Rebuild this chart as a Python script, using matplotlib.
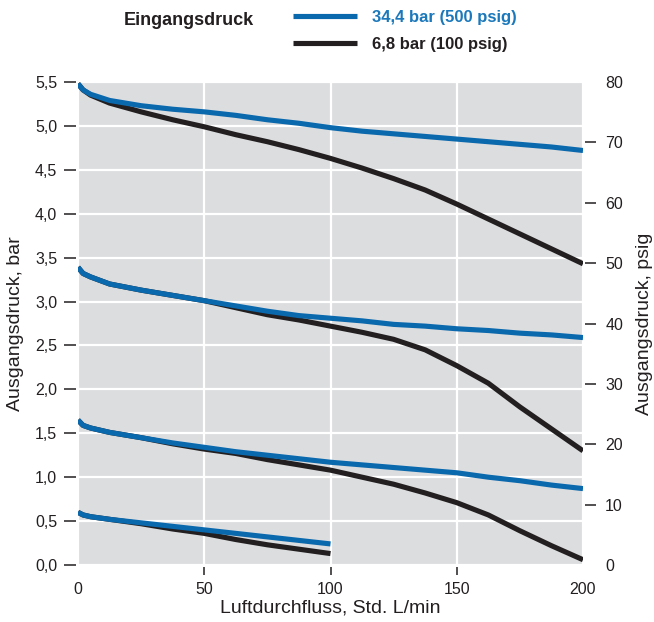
import matplotlib
matplotlib.use("Agg")
import matplotlib.pyplot as plt

plt.rcParams['font.family'] = ['Liberation Sans', 'DejaVu Sans']

# ---- data ----
flow_full = [0, 2, 5, 12.5, 25, 37.5, 50, 62.5, 75, 87.5, 100,
             112.5, 125, 137.5, 150, 162.5, 175, 187.5, 200]
flow_short = [0, 2, 5, 12.5, 25, 37.5, 50, 62.5, 75, 87.5, 100]

# 34,4 bar (500 psig) inlet
hi_set1 = [5.48, 5.41, 5.36, 5.29, 5.23, 5.19, 5.16, 5.12, 5.07, 5.03, 4.98,
           4.94, 4.91, 4.88, 4.85, 4.82, 4.79, 4.76, 4.72]
hi_set2 = [3.39, 3.32, 3.28, 3.20, 3.13, 3.07, 3.01, 2.95, 2.89, 2.84, 2.81,
           2.78, 2.74, 2.72, 2.69, 2.67, 2.64, 2.62, 2.59]
hi_set3 = [1.65, 1.59, 1.56, 1.51, 1.45, 1.39, 1.34, 1.29, 1.25, 1.21, 1.17,
           1.14, 1.11, 1.08, 1.05, 1.00, 0.96, 0.91, 0.87]
hi_set4 = [0.60, 0.57, 0.55, 0.52, 0.48, 0.44, 0.40, 0.36, 0.32, 0.28, 0.24]

# 6,8 bar (100 psig) inlet
lo_set1 = [5.48, 5.41, 5.35, 5.26, 5.16, 5.07, 4.99, 4.90, 4.82, 4.73, 4.63,
           4.52, 4.40, 4.27, 4.11, 3.94, 3.77, 3.60, 3.43]
lo_set2 = [3.39, 3.32, 3.28, 3.20, 3.13, 3.07, 3.01, 2.93, 2.85, 2.79, 2.72,
           2.65, 2.57, 2.45, 2.27, 2.07, 1.80, 1.55, 1.30]
lo_set3 = [1.65, 1.59, 1.56, 1.51, 1.45, 1.38, 1.32, 1.27, 1.20, 1.14, 1.08,
           1.00, 0.92, 0.82, 0.71, 0.57, 0.39, 0.22, 0.06]
lo_set4 = [0.60, 0.57, 0.55, 0.52, 0.47, 0.41, 0.36, 0.29, 0.23, 0.18, 0.13]

x_ticks = [0, 50, 100, 150, 200]
bar_ticks = [0, 0.5, 1.0, 1.5, 2.0, 2.5, 3.0, 3.5, 4.0, 4.5, 5.0, 5.5]
psig_ticks = [0, 10, 20, 30, 40, 50, 60, 70, 80]

legend_title = "Eingangsdruck"
label_hi = "34,4 bar (500 psig)"
label_lo = "6,8 bar (100 psig)"

# ---- style ----
BLUE = '#0a68ad'
BLUE_TXT = '#1a78bb'
BLACK = '#231f20'
BG = '#dcdddf'
TXT = '#231f20'
LW = 3.7

W, H = 654, 622
fig = plt.figure(figsize=(W / 100, H / 100), dpi=100)
ax = fig.add_axes([78 / W, 1 - 565 / H, 505 / W, 483 / H])
ax.set_facecolor(BG)

lo_lines = []
for xs, ys in [(flow_full, lo_set1), (flow_full, lo_set2), (flow_full, lo_set3), (flow_short, lo_set4)]:
    l, = ax.plot(xs, ys, color=BLACK, lw=LW, solid_capstyle='butt', solid_joinstyle='round', zorder=3)
    lo_lines.append(l)
hi_lines = []
for xs, ys in [(flow_full, hi_set1), (flow_full, hi_set2), (flow_full, hi_set3), (flow_short, hi_set4)]:
    l, = ax.plot(xs, ys, color=BLUE, lw=LW, solid_capstyle='butt', solid_joinstyle='round', zorder=4)
    hi_lines.append(l)

ax.set_xlim(0, 200)
ax.set_ylim(0, 5.5)
ax.set_xticks(x_ticks)
ax.set_yticks(bar_ticks)
ax.set_xticklabels([str(v) for v in x_ticks])
ax.set_yticklabels([f"{v:.1f}".replace('.', ',') for v in bar_ticks])
ax.grid(True, color='white', lw=1.6, zorder=1)
ax.set_axisbelow(True)
for s in ax.spines.values():
    s.set_visible(False)
ax.spines['left'].set_position(('outward', 1.5))
ax.spines['bottom'].set_position(('outward', 1.5))

ax.tick_params(axis='y', direction='out', length=8.5, width=1.1, color=TXT,
               pad=5, labelsize=11.5, labelcolor=TXT)
ax.tick_params(axis='x', direction='out', length=5.5, width=1.1, color=TXT,
               pad=5, labelsize=11.5, labelcolor=TXT)
for ticks in (ax.xaxis.get_major_ticks(), ax.yaxis.get_major_ticks()):
    ticks[0].tick1line.set_visible(False)
    ticks[-1].tick1line.set_visible(False)

ax.set_xlabel("Luftdurchfluss, Std. L/min", fontsize=14, color=TXT, labelpad=2)
ax.set_ylabel("Ausgangsdruck, bar", fontsize=14, color=TXT, labelpad=8)

ax2 = ax.twinx()
ax2.set_ylim(0, 80)
ax2.set_yticks(psig_ticks)
ax2.set_yticklabels([str(v) for v in psig_ticks])
for s in ax2.spines.values():
    s.set_visible(False)
ax2.spines['right'].set_position(('outward', 1.5))
ax2.tick_params(axis='y', direction='out', length=8, width=1.1, color=TXT,
                pad=6.5, labelsize=11.5, labelcolor=TXT)
t2 = ax2.yaxis.get_major_ticks()
t2[0].tick2line.set_visible(False)
t2[-1].tick2line.set_visible(False)
ax2.set_ylabel("Ausgangsdruck, psig", fontsize=14, color=TXT, labelpad=9)

# legend
fig.text(124 / W, 1 - 25 / H, legend_title, fontsize=13, fontweight='bold',
         color=TXT, ha='left', va='baseline')
leg = ax.legend(handles=[hi_lines[0], lo_lines[0]], labels=[label_hi, label_lo],
                loc='upper left', bbox_to_anchor=(293 / W, 1 - 10 / H),
                bbox_transform=fig.transFigure, frameon=False,
                borderpad=0, borderaxespad=0, handlelength=3.85,
                handletextpad=0.9, labelspacing=0.72,
                prop={'size': 12, 'weight': 'bold'})
for txt, c in zip(leg.get_texts(), [BLUE_TXT, TXT]):
    txt.set_color(c)
for h in leg.legend_handles:
    h.set_linewidth(3.7)

fig.savefig("out.png", dpi=100)
